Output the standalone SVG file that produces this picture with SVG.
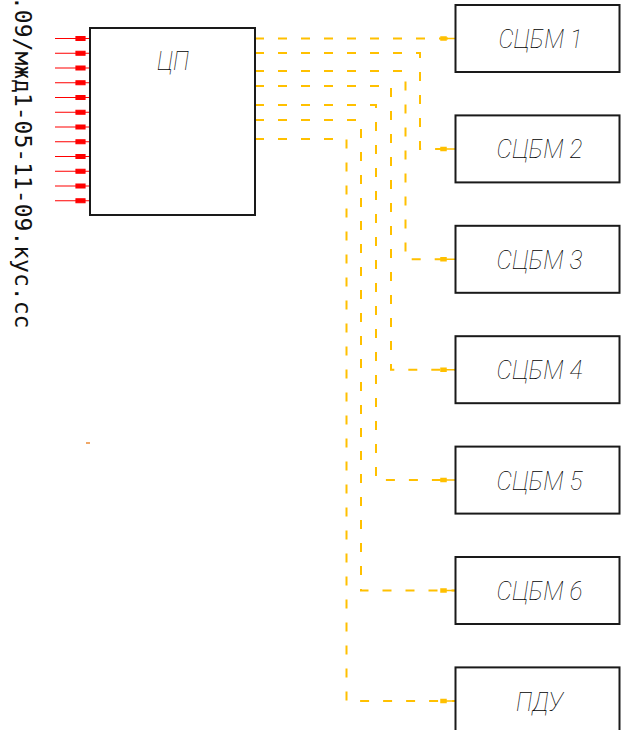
<svg xmlns="http://www.w3.org/2000/svg" xmlns:xlink="http://www.w3.org/1999/xlink" width="621" height="730" viewBox="0 0 621 730">
<style>
.box{fill:#fff;stroke:#1a1a1a;stroke-width:2}
.lbl{font-family:Roboto,"Liberation Sans",sans-serif;font-style:italic;font-weight:100;font-size:25px;fill:#000}
.side{font-family:"DejaVu Sans Mono","Liberation Mono",monospace;font-size:23px;fill:#111}
.red{stroke:#ff0000;stroke-width:1.2;fill:#ff0000}
.bus{fill:none;stroke:#ffc000;stroke-width:2;stroke-dasharray:9 14}
.head{fill:#ffc000;stroke:#ffc000;stroke-width:1.5}
</style>
<defs>
<path id="ra" d="M55 0H90M76 -2h9v4h-9z"/>
<path id="oa" d="M441 0H455M441 -1.5h5v3h-5z"/>
</defs>
<rect width="621" height="730" fill="#fff"/>
<text class="side" transform="translate(15,-4) rotate(90)">.09/мжд1-05-11-09.кус.сс</text>
<g id="inputs" class="red">
<use xlink:href="#ra" y="38.5"/>
<use xlink:href="#ra" y="53.25"/>
<use xlink:href="#ra" y="68"/>
<use xlink:href="#ra" y="82.75"/>
<use xlink:href="#ra" y="97.5"/>
<use xlink:href="#ra" y="112.25"/>
<use xlink:href="#ra" y="127"/>
<use xlink:href="#ra" y="141.75"/>
<use xlink:href="#ra" y="156.5"/>
<use xlink:href="#ra" y="171.25"/>
<use xlink:href="#ra" y="186"/>
<use xlink:href="#ra" y="200.75"/>
</g>
<g id="connectors">
<path class="bus" d="M255 38.5H455"/>
<path class="bus" d="M255 53H420V148.9H455"/>
<path class="bus" d="M255 71H405.5V259.3H455"/>
<path class="bus" d="M255 86H391V369.7H455"/>
<path class="bus" d="M255 105H376V480.1H455"/>
<path class="bus" d="M255 120H361V590.5H455"/>
<path class="bus" d="M255 139H346.5V700.9H455"/>
<g class="head">
<use xlink:href="#oa" y="38.5"/>
<use xlink:href="#oa" y="148.9"/>
<use xlink:href="#oa" y="259.3"/>
<use xlink:href="#oa" y="369.7"/>
<use xlink:href="#oa" y="480.1"/>
<use xlink:href="#oa" y="590.5"/>
<use xlink:href="#oa" y="700.9"/>
</g>
</g>
<g id="cp">
<rect class="box" x="90" y="28" width="165" height="187"/>
<text class="lbl" x="157" y="70" textLength="32" lengthAdjust="spacingAndGlyphs">ЦП</text>
</g>
<g id="scbm1">
<rect class="box" x="455.5" y="5" width="164" height="67"/>
<text class="lbl" x="498.5" y="47.5" textLength="84" lengthAdjust="spacingAndGlyphs">СЦБМ 1</text>
</g>
<g id="scbm2">
<rect class="box" x="455.5" y="115.4" width="164" height="67"/>
<text class="lbl" x="496.5" y="158" textLength="86" lengthAdjust="spacingAndGlyphs">СЦБМ 2</text>
</g>
<g id="scbm3">
<rect class="box" x="455.5" y="225.8" width="164" height="67"/>
<text class="lbl" x="496.5" y="268.5" textLength="86" lengthAdjust="spacingAndGlyphs">СЦБМ 3</text>
</g>
<g id="scbm4">
<rect class="box" x="455.5" y="336.2" width="164" height="67"/>
<text class="lbl" x="496.5" y="379" textLength="86" lengthAdjust="spacingAndGlyphs">СЦБМ 4</text>
</g>
<g id="scbm5">
<rect class="box" x="455.5" y="446.6" width="164" height="67"/>
<text class="lbl" x="496.5" y="489.5" textLength="86" lengthAdjust="spacingAndGlyphs">СЦБМ 5</text>
</g>
<g id="scbm6">
<rect class="box" x="455.5" y="557" width="164" height="67"/>
<text class="lbl" x="496.5" y="600" textLength="86" lengthAdjust="spacingAndGlyphs">СЦБМ 6</text>
</g>
<g id="pdu">
<rect class="box" x="455.5" y="667.4" width="164" height="67"/>
<text class="lbl" x="516" y="710.5" textLength="47" lengthAdjust="spacingAndGlyphs">ПДУ</text>
</g>
<rect x="86" y="442" width="4" height="2" fill="#f0a868"/>
</svg>
